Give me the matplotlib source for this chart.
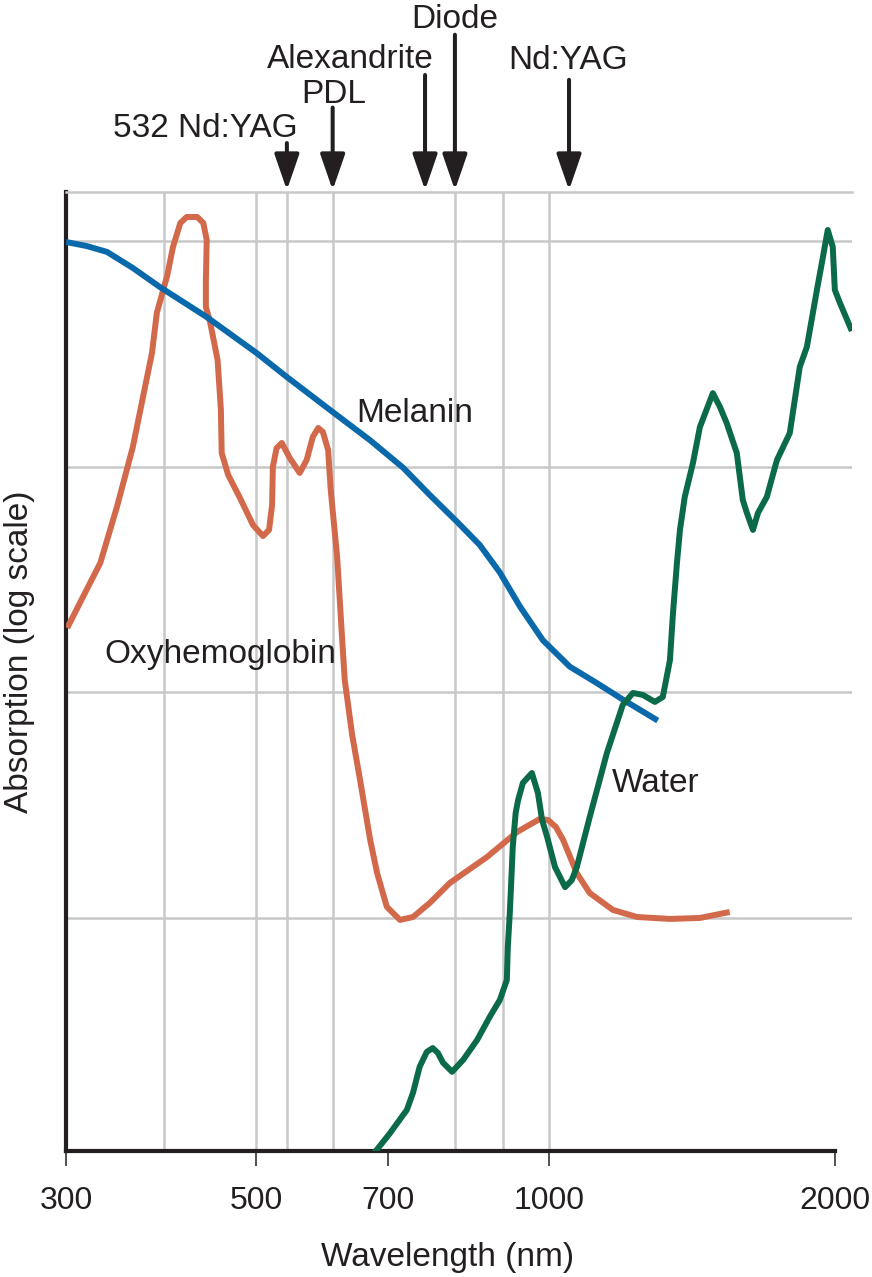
import numpy as np
import matplotlib
matplotlib.use("Agg")
import matplotlib.pyplot as plt
from matplotlib.ticker import NullLocator


# wavelength (nm) and relative absorption
melanin_nm = [300, 317, 335, 359, 386, 438, 501, 541, 608, 669, 724, 768, 816,
              858, 897, 938, 987, 1052, 1123, 1196, 1302]
melanin_abs = [992, 952, 896, 761, 627, 461, 319, 250, 175, 131, 99, 75, 57,
               45, 34, 24, 17, 13, 11, 9.3, 7.5]

oxy_nm = [301, 314, 329, 344, 359, 378, 383, 394, 400, 408, 415, 427, 434, 438,
          437, 437, 442, 451, 455, 456, 464, 479, 496, 509, 517, 521, 522, 527,
          534, 545, 559, 569, 578, 586, 593, 601, 605, 615, 622, 627, 639, 652,
          669, 681, 698, 719, 740, 768, 803, 872, 932, 980, 998, 1017, 1035,
          1070, 1104, 1168, 1238, 1341, 1442, 1550]
oxy_abs = [19.3, 26.5, 37.5, 66.3, 122, 319, 481, 708, 943, 1204, 1280, 1280,
           1204, 1012, 673, 511, 438, 297, 179, 115, 92, 72.7, 55.2, 49.3, 52.5,
           67.7, 99.8, 121, 127.5, 109.4, 93.9, 107.2, 135.6, 148.6, 142.7,
           118.7, 78.9, 39.8, 18.9, 11.35, 6.47, 4.09, 2.22, 1.58, 1.12, 0.98,
           1.01, 1.166, 1.43, 1.864, 2.405, 2.747, 2.719, 2.531, 2.22, 1.58,
           1.29, 1.085, 1.01, 0.99, 1.0, 1.063]

water_nm = [676, 703, 730, 740, 751, 763, 773, 782, 791, 807, 827, 853, 877,
            897, 911, 913, 917, 921, 923, 929, 934, 944, 963, 976, 985, 996,
            1015, 1040, 1057, 1070, 1104, 1151, 1196, 1226, 1256, 1293, 1318,
            1341, 1351, 1364, 1374, 1390, 1418, 1442, 1488, 1514, 1539, 1577,
            1600, 1616, 1640, 1660, 1696, 1738, 1793, 1837, 1869, 1915, 1938,
            1966, 1990, 2000, 2025, 2084]
water_abs = [0.0908, 0.111, 0.141, 0.168, 0.219, 0.255, 0.265, 0.252, 0.228,
             0.208, 0.235, 0.288, 0.364, 0.433, 0.531, 0.744, 1.05, 1.63, 2.06,
             2.92, 3.33, 3.97, 4.39, 3.58, 2.72, 2.29, 1.68, 1.37, 1.47, 1.68,
             2.80, 5.39, 8.79, 9.94, 9.74, 9.07, 9.54, 13.9, 22.5, 37.5, 52.5,
             73.5, 104, 150, 212, 184, 156, 115, 71.3, 62.4, 52.5, 62.4, 73.5,
             107, 141, 277, 340, 608, 800, 1121, 943, 608, 532, 400]

x_ticks = [300, 500, 700, 1000, 2000]
x_grid = [390, 500, 541, 608, 812, 903, 1000]
y_grid = [1, 10, 100, 1000]

laser_names = ['532 Nd:YAG', 'PDL', 'Alexandrite', 'Diode', 'Nd:YAG']
laser_nm = [541, 608, 760, 812, 1050]

# layout of the laser labels (x in nm, y in axes fraction)
arrow_tail = [1.051, 1.088, 1.122, 1.164, 1.117]
label_x = [556, 610, 775, 812, 1047]
label_y = [1.057, 1.093, 1.129, 1.171, 1.128]
label_ha = ['right', 'center', 'right', 'center', 'center']

INK = '#231f20'
GRID = '#c8c8c8'
BLUE = '#0a69aa'
ORANGE = '#d3694b'
GREEN = '#0b6a48'

# the printed wavelength axis is only roughly logarithmic
knot_log = np.log10([100, 300, 500, 700, 1000, 2000, 10000])
knot_pos = np.array([-343, 66, 256, 388, 549, 835, 1499])


def fwd(x):
    x = np.clip(np.asarray(x, dtype=float), 1e-3, None)
    return np.interp(np.log10(x), knot_log, knot_pos)


def inv(p):
    return 10 ** np.interp(p, knot_pos, knot_log)


plt.rcParams['font.family'] = ['Liberation Sans', 'DejaVu Sans']
FS = 24
LW = 4.3

W, H = 872, 1277
fig = plt.figure(figsize=(W / 100, H / 100), dpi=100)
ax = fig.add_axes([66 / W, 126 / H, 786 / W, 959 / H])

ax.set_xscale('function', functions=(fwd, inv))
ax.set_yscale('log')
ax.set_xlim(300, 2085)
ax.set_ylim(10 ** -1.033, 10 ** 3.218)

# grid
for x in x_grid:
    ax.axvline(x, color=GRID, lw=1.8, zorder=0)
for y in y_grid:
    ax.axhline(y, color=GRID, lw=1.8, zorder=0)

# curves
ax.plot(oxy_nm, oxy_abs, color=ORANGE, lw=LW, solid_joinstyle='round',
        solid_capstyle='butt', zorder=3)
ax.plot(melanin_nm, melanin_abs, color=BLUE, lw=LW, solid_joinstyle='round',
        solid_capstyle='butt', zorder=3)
ax.plot(water_nm, water_abs, color=GREEN, lw=LW, solid_joinstyle='round',
        solid_capstyle='butt', zorder=3)

ax.text(645, 158, 'Melanin', fontsize=FS, color=INK, va='baseline')
ax.text(333, 13.5, 'Oxyhemoglobin', fontsize=FS, color=INK, va='baseline')
ax.text(1165, 3.62, 'Water', fontsize=FS, color=INK, va='baseline')

# axes styling
ax.set_xticks(x_ticks)
ax.set_xticklabels([str(t) for t in x_ticks])
ax.xaxis.set_minor_locator(NullLocator())
ax.yaxis.set_major_locator(NullLocator())
ax.yaxis.set_minor_locator(NullLocator())
ax.tick_params(axis='x', direction='out', length=10.5, width=1.1, color=INK,
               labelsize=23, labelcolor=INK, pad=15)

ax.spines['right'].set_visible(False)
ax.spines['top'].set_color(GRID)
ax.spines['top'].set_linewidth(1.8)
ax.spines['left'].set_color(INK)
ax.spines['left'].set_linewidth(3)
ax.spines['bottom'].set_color(INK)
ax.spines['bottom'].set_linewidth(3)
ax.spines['bottom'].set_bounds(300, 2000)

# laser wavelengths
xt = ax.get_xaxis_transform()
for name, nm, tail, tx, ty, ha in zip(laser_names, laser_nm, arrow_tail,
                                      label_x, label_y, label_ha):
    ax.annotate('', xy=(nm, 1.002), xytext=(nm, tail),
                xycoords=xt, textcoords=xt, annotation_clip=False,
                arrowprops=dict(arrowstyle='-|>,head_length=1.1,head_width=0.38',
                                lw=2.9, color=INK, shrinkA=0, shrinkB=0,
                                mutation_scale=20))
    ax.text(tx, ty, name, transform=xt, ha=ha, va='baseline', fontsize=FS,
            color=INK, clip_on=False)

fig.text(448 / W, 1 - 1266 / H, 'Wavelength (nm)', fontsize=FS, color=INK,
         ha='center', va='baseline')
fig.text(20 / W, 1 - 652 / H, 'Absorption (log scale)', fontsize=FS, color=INK,
         ha='center', va='center', rotation=90)

fig.savefig('out.png', dpi=100)
